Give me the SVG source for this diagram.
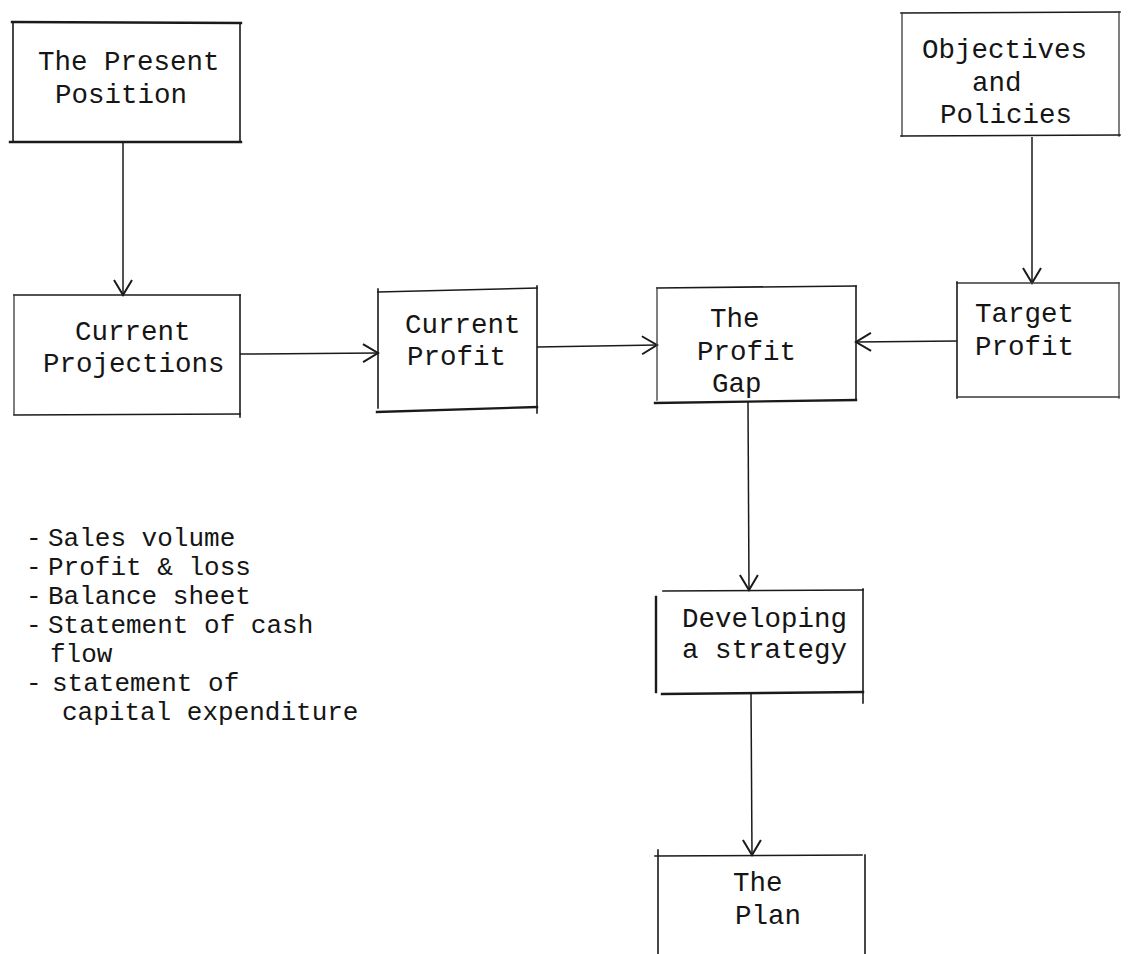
<svg xmlns="http://www.w3.org/2000/svg" width="1128" height="954" viewBox="0 0 1128 954">
  <style>
    .bg { fill: #ffffff; }
    .edge { stroke: #1a1a1a; stroke-width: 1.6; fill: none; stroke-linecap: square; }
    .heavy { stroke-width: 2.4; }
    .faint { stroke: #3a3a3a; stroke-width: 1.3; }
    .label { font-family: "Liberation Mono", "Courier New", monospace; font-size: 27.5px; fill: #151515; }
    .item { font-family: "Liberation Mono", "Courier New", monospace; font-size: 26px; fill: #151515; }
    .conn { stroke: #1a1a1a; stroke-width: 1.5; fill: none; marker-end: url(#vhead); }
  </style>
  <defs>
    <marker id="vhead" markerUnits="userSpaceOnUse" markerWidth="22" markerHeight="22" viewBox="0 0 22 22" refX="17" refY="11" orient="auto">
      <path d="M2,2 L17,11 L2,20" fill="none" stroke="#1a1a1a" stroke-width="2"/>
    </marker>
  </defs>

  <rect class="bg" x="0" y="0" width="1128" height="954"/>

  <!-- connectors -->
  <g id="connectors">
    <line class="conn" x1="123" y1="142" x2="123" y2="295"/>
    <line class="conn" x1="240" y1="354" x2="378" y2="353"/>
    <line class="conn" x1="537" y1="347" x2="657" y2="345"/>
    <line class="conn" x1="957" y1="341" x2="856" y2="342"/>
    <line class="conn" x1="1032" y1="137" x2="1032" y2="283"/>
    <line class="conn" x1="748" y1="402" x2="749" y2="590"/>
    <line class="conn" x1="751" y1="693" x2="752" y2="855"/>
  </g>

  <!-- The Present Position -->
  <g id="present-position">
    <line class="edge heavy" x1="12" y1="22" x2="241" y2="23"/>
    <line class="edge" x1="13" y1="22" x2="13" y2="142"/>
    <line class="edge" x1="240" y1="23" x2="240" y2="142"/>
    <line class="edge heavy" x1="10" y1="142" x2="241" y2="142"/>
    <text class="label" x="38" y="70">The Present</text>
    <text class="label" x="55" y="103">Position</text>
  </g>

  <!-- Objectives and Policies -->
  <g id="objectives-policies">
    <line class="edge" x1="901" y1="13" x2="1120" y2="12"/>
    <line class="edge faint" x1="902" y1="13" x2="902" y2="136"/>
    <line class="edge faint" x1="1119" y1="12" x2="1119" y2="136"/>
    <line class="edge" x1="901" y1="136" x2="1120" y2="135"/>
    <text class="label" x="922" y="58">Objectives</text>
    <text class="label" x="972" y="91">and</text>
    <text class="label" x="940" y="123">Policies</text>
  </g>

  <!-- Current Projections -->
  <g id="current-projections">
    <line class="edge" x1="14" y1="295" x2="240" y2="295"/>
    <line class="edge faint" x1="14" y1="295" x2="14" y2="414"/>
    <line class="edge" x1="240" y1="295" x2="240" y2="417"/>
    <line class="edge" x1="14" y1="415" x2="240" y2="414"/>
    <text class="label" x="75" y="340">Current</text>
    <text class="label" x="43" y="372">Projections</text>
  </g>

  <!-- Current Profit -->
  <g id="current-profit">
    <line class="edge" x1="378" y1="292" x2="537" y2="288"/>
    <line class="edge" x1="378" y1="289" x2="378" y2="408"/>
    <line class="edge" x1="537" y1="286" x2="537" y2="413"/>
    <line class="edge heavy" x1="377" y1="412" x2="537" y2="407"/>
    <text class="label" x="405" y="333">Current</text>
    <text class="label" x="407" y="365">Profit</text>
  </g>

  <!-- The Profit Gap -->
  <g id="profit-gap">
    <line class="edge" x1="657" y1="288" x2="856" y2="286"/>
    <line class="edge faint" x1="657" y1="288" x2="657" y2="400"/>
    <line class="edge" x1="856" y1="286" x2="856" y2="400"/>
    <line class="edge heavy" x1="655" y1="403" x2="856" y2="400"/>
    <text class="label" x="710" y="327">The</text>
    <text class="label" x="697" y="360">Profit</text>
    <text class="label" x="712" y="392">Gap</text>
  </g>

  <!-- Target Profit -->
  <g id="target-profit">
    <line class="edge faint" x1="957" y1="283" x2="1119" y2="283"/>
    <line class="edge" x1="957" y1="282" x2="957" y2="398"/>
    <line class="edge faint" x1="1119" y1="283" x2="1119" y2="398"/>
    <line class="edge faint" x1="957" y1="397" x2="1119" y2="397"/>
    <text class="label" x="975" y="322">Target</text>
    <text class="label" x="975" y="355">Profit</text>
  </g>

  <!-- Developing a strategy -->
  <g id="developing-strategy">
    <line class="edge" x1="663" y1="591" x2="863" y2="590"/>
    <line class="edge heavy" x1="656" y1="597" x2="656" y2="692"/>
    <line class="edge" x1="863" y1="589" x2="863" y2="703"/>
    <line class="edge heavy" x1="662" y1="694" x2="863" y2="692"/>
    <text class="label" x="682" y="627">Developing</text>
    <text class="label" x="682" y="658">a strategy</text>
  </g>

  <!-- The Plan -->
  <g id="the-plan">
    <line class="edge" x1="655" y1="856" x2="862" y2="855"/>
    <line class="edge" x1="658" y1="850" x2="658" y2="954"/>
    <line class="edge" x1="865" y1="855" x2="865" y2="954"/>
    <text class="label" x="733" y="891">The</text>
    <text class="label" x="735" y="924">Plan</text>
  </g>

  <!-- projection contents -->
  <g id="projection-list">
    <text class="item" x="26" y="546">-</text>
    <text class="item" x="48" y="546">Sales volume</text>
    <text class="item" x="26" y="575">-</text>
    <text class="item" x="48" y="575">Profit &amp; loss</text>
    <text class="item" x="26" y="604">-</text>
    <text class="item" x="48" y="604">Balance sheet</text>
    <text class="item" x="26" y="633">-</text>
    <text class="item" x="48" y="633">Statement of cash</text>
    <text class="item" x="50" y="662">flow</text>
    <text class="item" x="26" y="691">-</text>
    <text class="item" x="52" y="691">statement of</text>
    <text class="item" x="62" y="720">capital expenditure</text>
  </g>
</svg>
